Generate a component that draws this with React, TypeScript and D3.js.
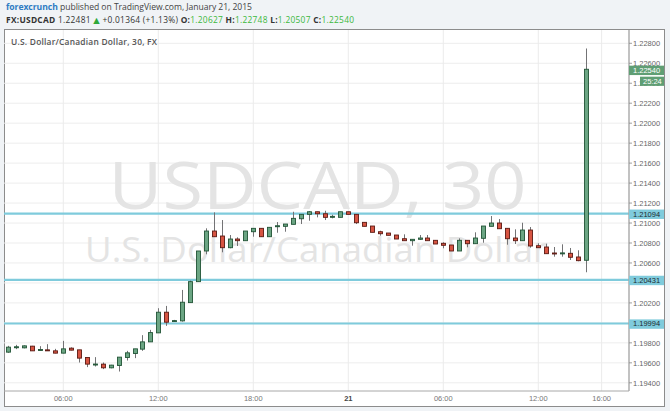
import React from "react";
import * as d3 from "d3";

const W = 670;
const H = 411;

// 30-minute bars, first bar 2015-01-20 02:30 UTC
const firstBar = "2015-01-20T02:30:00Z";
const barMinutes = 30;

const opens = [1.19707,1.19760,1.19750,1.19767,1.19727,1.19730,1.19720,1.19697,1.19747,1.19730,
1.19653,1.19587,1.19587,1.19550,1.19573,1.19653,1.19693,1.19737,1.19810,1.19900,
1.20107,1.20017,1.20020,1.20203,1.20413,1.20720,1.20920,1.20870,1.20753,1.20840,
1.20823,1.20913,1.20947,1.20863,1.20963,1.20967,1.20987,1.21043,1.21087,1.21113,
1.21093,1.21067,1.21057,1.21113,1.21087,1.21007,1.20970,1.20913,1.20900,1.20880,
1.20843,1.20823,1.20837,1.20850,1.20827,1.20797,1.20780,1.20720,1.20827,1.20793,
1.20847,1.20967,1.21000,1.20947,1.20850,1.20823,1.20930,1.20773,1.20760,1.20700,
1.20700,1.20697,1.20660,1.20627];

const highs = [1.19770,1.19780,1.19775,1.19770,1.19767,1.19787,1.19740,1.19820,1.19755,1.19730,
1.19653,1.19657,1.19603,1.19580,1.19657,1.19720,1.19740,1.19877,1.19930,1.20147,
1.20170,1.20030,1.20330,1.20423,1.20720,1.20947,1.21107,1.21030,1.20880,1.20857,
1.20920,1.20947,1.20947,1.20957,1.21010,1.20990,1.21113,1.21087,1.21120,1.21113,
1.21123,1.21083,1.21113,1.21113,1.21087,1.21007,1.20970,1.20923,1.20900,1.20880,
1.20887,1.20837,1.20880,1.20880,1.20827,1.20807,1.20780,1.20847,1.20827,1.20907,
1.20970,1.21070,1.21040,1.20947,1.20937,1.21003,1.20960,1.20797,1.20793,1.20760,
1.20787,1.20750,1.20727,1.22748];

const lows = [1.19700,1.19737,1.19745,1.19720,1.19725,1.19720,1.19695,1.19695,1.19725,1.19603,
1.19557,1.19563,1.19537,1.19545,1.19513,1.19623,1.19647,1.19720,1.19810,1.19900,
1.19970,1.20010,1.20013,1.20203,1.20413,1.20687,1.20863,1.20707,1.20747,1.20770,
1.20823,1.20863,1.20863,1.20863,1.20903,1.20913,1.20987,1.20990,1.21023,1.21057,
1.21030,1.21047,1.21057,1.21087,1.20990,1.20967,1.20907,1.20873,1.20877,1.20840,
1.20823,1.20773,1.20830,1.20823,1.20790,1.20747,1.20720,1.20720,1.20757,1.20793,
1.20803,1.20967,1.20943,1.20783,1.20790,1.20823,1.20753,1.20753,1.20693,1.20663,
1.20663,1.20630,1.20617,1.20507];

const closes = [1.19757,1.19761,1.19770,1.19720,1.19733,1.19720,1.19697,1.19740,1.19727,1.19647,
1.19587,1.19588,1.19550,1.19577,1.19657,1.19700,1.19740,1.19810,1.19903,1.20107,
1.20007,1.20023,1.20207,1.20413,1.20720,1.20920,1.20863,1.20753,1.20840,1.20823,
1.20920,1.20947,1.20863,1.20957,1.20973,1.20990,1.21047,1.21087,1.21113,1.21093,
1.21057,1.21067,1.21113,1.21087,1.21003,1.20967,1.20907,1.20893,1.20877,1.20840,
1.20823,1.20837,1.20850,1.20823,1.20790,1.20777,1.20720,1.20827,1.20793,1.20850,
1.20970,1.21000,1.20943,1.20843,1.20823,1.20930,1.20770,1.20753,1.20693,1.20699,
1.20701,1.20657,1.20623,1.22540];

const priceTicks = [1.194,1.196,1.198,1.2,1.202,1.204,1.206,1.208,1.21,1.212,1.214,1.216,1.218,1.22,1.222,1.224,1.226,1.228];
const timeTicks = ["2015-01-20T06:00:00Z","2015-01-20T12:00:00Z","2015-01-20T18:00:00Z","2015-01-21T00:00:00Z","2015-01-21T06:00:00Z","2015-01-21T12:00:00Z","2015-01-21T16:00:00Z"];
const timeTickLabels = ["06:00","12:00","18:00","21","06:00","12:00","16:00"];
const levelValues = [1.21094, 1.20431, 1.19994];
const lastPrice = 1.2254;
const countdown = "25:24";

const UP_FILL = "#6ba583";
const UP_STROKE = "#225437";
const DN_FILL = "#d75442";
const DN_STROKE = "#5b1a13";
const WICK = "#737375";
const LEVEL = "#7fcbdc";

const PL = 4, PR = 629, PT = 30, PB = 391;

export default function App() {
  const x = d3
    .scaleUtc()
    .domain([new Date("2015-01-20T06:00:00Z"), new Date("2015-01-21T12:00:00Z")])
    .range([63.3, 538.3]);
  const y = d3.scaleLinear().domain([1.194, 1.228]).range([382.8, 43.3]);
  const t0 = new Date(firstBar).getTime();
  const bars = opens.map((o, i) => ({
    t: new Date(t0 + i * barMinutes * 60000),
    o,
    h: highs[i],
    l: lows[i],
    c: closes[i],
  }));
  const fmt = d3.format(".5f");
  const axisFont = "'Liberation Sans', Arial, sans-serif";
  const headFont = "'Open Sans', 'DejaVu Sans', sans-serif";
  // tick labels fully hidden behind a level label box are not drawn
  const visibleTicks = priceTicks.filter(
    (p) => !levelValues.some((v) => Math.abs(y(v) - y(p)) < 5)
  );

  return (
    <svg
      width={W}
      height={H}
      viewBox={`0 0 ${W} ${H}`}
      style={{ position: "absolute", left: 0, top: 0 }}
    >
      <rect x={0} y={0} width={W} height={H} fill="#f0f3f6" />
      {/* header */}
      <text x={6} y={10} fontFamily={headFont} fontSize={8.6} textLength={246} lengthAdjust="spacing">
        <tspan fill="#2f7cc3" fontWeight={700}>forexcrunch</tspan>
        <tspan fill="#444"> published on TradingView.com, January 21, 2015</tspan>
      </text>
      <text x={6} y={23.3} fontFamily={headFont} fontSize={8.4} fill="#333" textLength={348} lengthAdjust="spacing">
        <tspan fontWeight={700}>FX:USDCAD</tspan>
        <tspan> 1.22481 </tspan>
        <tspan fill="#2fa83a">▲</tspan>
        <tspan> +0.01364 (+1.13%) </tspan>
        <tspan fontWeight={700}>O:</tspan>
        <tspan fill="#3cb83c">1.20627</tspan>
        <tspan fontWeight={700}> H:</tspan>
        <tspan fill="#3cb83c">1.22748</tspan>
        <tspan fontWeight={700}> L:</tspan>
        <tspan fill="#3cb83c">1.20507</tspan>
        <tspan fontWeight={700}> C:</tspan>
        <tspan fill="#3cb83c">1.22540</tspan>
      </text>

      {/* frame */}
      <rect x={4.5} y={29.5} width={660} height={377} fill="#fff" stroke="#8c8c8c" strokeWidth={1} />

      {/* grid */}
      {priceTicks.map((p) => (
        <line key={"hg" + p} x1={PL} x2={PR} y1={y(p)} y2={y(p)} stroke="#ededed" strokeWidth={1} />
      ))}
      {timeTicks.map((t) => (
        <line key={"vg" + t} x1={x(new Date(t))} x2={x(new Date(t))} y1={PT} y2={PB} stroke="#ebebeb" strokeWidth={1} />
      ))}

      {/* watermark */}
      <text x={317.5} y={209.3} textAnchor="middle" fontFamily={headFont} fontSize={66} fill="#e4e4e4" textLength={418} lengthAdjust="spacingAndGlyphs">
        USDCAD, 30
      </text>
      <text x={316.5} y={261.7} textAnchor="middle" fontFamily={headFont} fontSize={35} fill="#e4e4e4" textLength={463} lengthAdjust="spacingAndGlyphs">
        U.S. Dollar/Canadian Dollar
      </text>

      {/* inner title */}
      <text x={11} y={45.4} fontFamily={headFont} fontSize={8.4} fontWeight={600} fill="#555" textLength={146} lengthAdjust="spacing">
        U.S. Dollar/Canadian Dollar, 30, FX
      </text>

      {/* level lines */}
      {levelValues.map((v) => (
        <line key={"lv" + v} x1={PL} x2={PR} y1={y(v)} y2={y(v)} stroke={LEVEL} strokeWidth={2.2} />
      ))}

      {/* candles */}
      {bars.map((b, i) => {
        const cx = Math.round(x(b.t)) + 0.5;
        const up = b.c >= b.o;
        const top = Math.min(y(b.o), y(b.c));
        const bh = Math.max(Math.abs(y(b.o) - y(b.c)), 1);
        return (
          <g key={"c" + i}>
            <line x1={cx} x2={cx} y1={y(b.h)} y2={y(b.l)} stroke={WICK} strokeWidth={1} />
            <rect
              x={cx - 2}
              y={top}
              width={4}
              height={bh}
              fill={up ? UP_FILL : DN_FILL}
              stroke={up ? UP_STROKE : DN_STROKE}
              strokeWidth={0.9}
            />
          </g>
        );
      })}

      {/* axes */}
      <line x1={PR} x2={PR} y1={PT} y2={PB} stroke="#a8a8a8" strokeWidth={1.4} />
      <line x1={PL} x2={PR} y1={PB} y2={PB} stroke="#a8a8a8" strokeWidth={1} />
      {priceTicks.map((p) => (
        <line key={"ptm" + p} x1={PR} x2={PR + 3} y1={y(p)} y2={y(p)} stroke="#888" strokeWidth={0.8} />
      ))}
      {visibleTicks.map((p) => (
        <text key={"pt" + p} x={633} y={y(p) + 2.7} fontFamily={axisFont} fontSize={7.5} fill="#666">
          {fmt(p)}
        </text>
      ))}
      {timeTicks.map((t, i) => (
        <text
          key={"tt" + t}
          x={x(new Date(t))}
          y={401}
          textAnchor="middle"
          fontFamily={axisFont}
          fontSize={7.5}
          fontWeight={timeTickLabels[i] === "21" ? 700 : 400}
          fill={timeTickLabels[i] === "21" ? "#444" : "#777"}
        >
          {timeTickLabels[i]}
        </text>
      ))}

      {/* level labels */}
      {levelValues.map((v) => (
        <g key={"ll" + v}>
          <rect x={629} y={y(v) - 4.1} width={35} height={9.4} fill={LEVEL} />
          <text x={633} y={y(v) + 3} fontFamily={axisFont} fontSize={7.5} fill="#1d2a30">
            {fmt(v)}
          </text>
        </g>
      ))}

      {/* last price labels */}
      <rect x={629} y={y(lastPrice) - 3.6} width={35} height={9.4} fill="#5f9e74" />
      <text x={633} y={y(lastPrice) + 3.4} fontFamily={axisFont} fontSize={7.5} fill="#fff">
        {fmt(lastPrice)}
      </text>
      <rect x={640} y={y(lastPrice) + 7.4} width={24} height={9.2} fill="#5f9e74" />
      <text x={643} y={y(lastPrice) + 14.4} fontFamily={axisFont} fontSize={7.5} fill="#fff">
        {countdown}
      </text>
    </svg>
  );
}
